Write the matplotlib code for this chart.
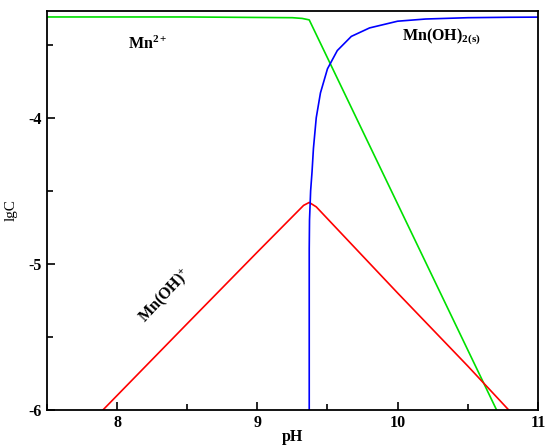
import matplotlib
matplotlib.use("Agg")
import matplotlib.pyplot as plt
from matplotlib.ticker import MultipleLocator

plt.rcParams['font.family'] = ['Liberation Serif', 'DejaVu Serif']
plt.rcParams['mathtext.fontset'] = 'custom'
plt.rcParams['mathtext.rm'] = 'Liberation Serif:bold'
plt.rcParams['mathtext.bf'] = 'Liberation Serif:bold'
plt.rcParams['axes.unicode_minus'] = False

# Mn2+ (green)
ph_mn = [7.5, 8.5, 9.25, 9.32, 9.37, 10.0, 10.5, 10.72]
lg_mn = [-3.31, -3.31, -3.315, -3.32, -3.33, -4.59, -5.59, -6.03]

# Mn(OH)+ (red)
ph_mnoh = [7.87, 8.5, 9.0, 9.33, 9.37, 9.42, 10.0, 10.5, 10.82]
lg_mnoh = [-6.03, -5.41, -4.92, -4.60, -4.58, -4.61, -5.20, -5.70, -6.03]

# Mn(OH)2(s) (blue)
ph_sol = [9.37, 9.37, 9.372, 9.38, 9.39, 9.40, 9.42, 9.45, 9.50, 9.57, 9.67,
          9.80, 10.0, 10.2, 10.5, 10.8, 11.0]
lg_sol = [-6.1, -4.9, -4.7, -4.5, -4.37, -4.21, -4.0, -3.83, -3.665, -3.54,
          -3.443, -3.385, -3.339, -3.324, -3.315, -3.312, -3.311]

fig = plt.figure(figsize=(5.45, 4.45), dpi=100)
ax = fig.add_axes([0.086, 0.079, 0.901, 0.896])

ax.plot(ph_mn, lg_mn, color='#00e000', lw=1.2)
ax.plot(ph_mnoh, lg_mnoh, color='#ff0000', lw=1.2)
ax.plot(ph_sol, lg_sol, color='#0000ff', lw=1.2)

ax.set_xlim(7.5, 11)
ax.set_ylim(-6, -3.27)
ax.xaxis.set_major_locator(MultipleLocator(1))
ax.xaxis.set_minor_locator(MultipleLocator(0.5))
ax.yaxis.set_major_locator(MultipleLocator(1))
ax.yaxis.set_minor_locator(MultipleLocator(0.5))
ax.tick_params(which='both', direction='in', width=1.2)
ax.tick_params(which='major', length=6, labelsize=11.5)
ax.tick_params(which='minor', length=4)
for lab in ax.get_xticklabels() + ax.get_yticklabels():
    lab.set_fontweight('bold')
for s in ax.spines.values():
    s.set_linewidth(1.3)

ax.set_xlabel('pH', fontsize=11.5, fontweight='bold', labelpad=-1)
ax.set_ylabel('lgC', fontsize=11, labelpad=8)

ax.text(8.22, -3.5, r'$\mathbf{Mn^{2+}}$', fontsize=11.5, ha='center', va='center')
ax.text(10.31, -3.45, r'$\mathbf{Mn(OH)_{2(s)}}$', fontsize=11.5, ha='center', va='center')
ax.text(8.34, -5.22, r'$\mathbf{Mn(OH)^{+}}$', fontsize=11.5, ha='center', va='center',
        rotation=47)

fig.savefig('out.png', dpi=100)
